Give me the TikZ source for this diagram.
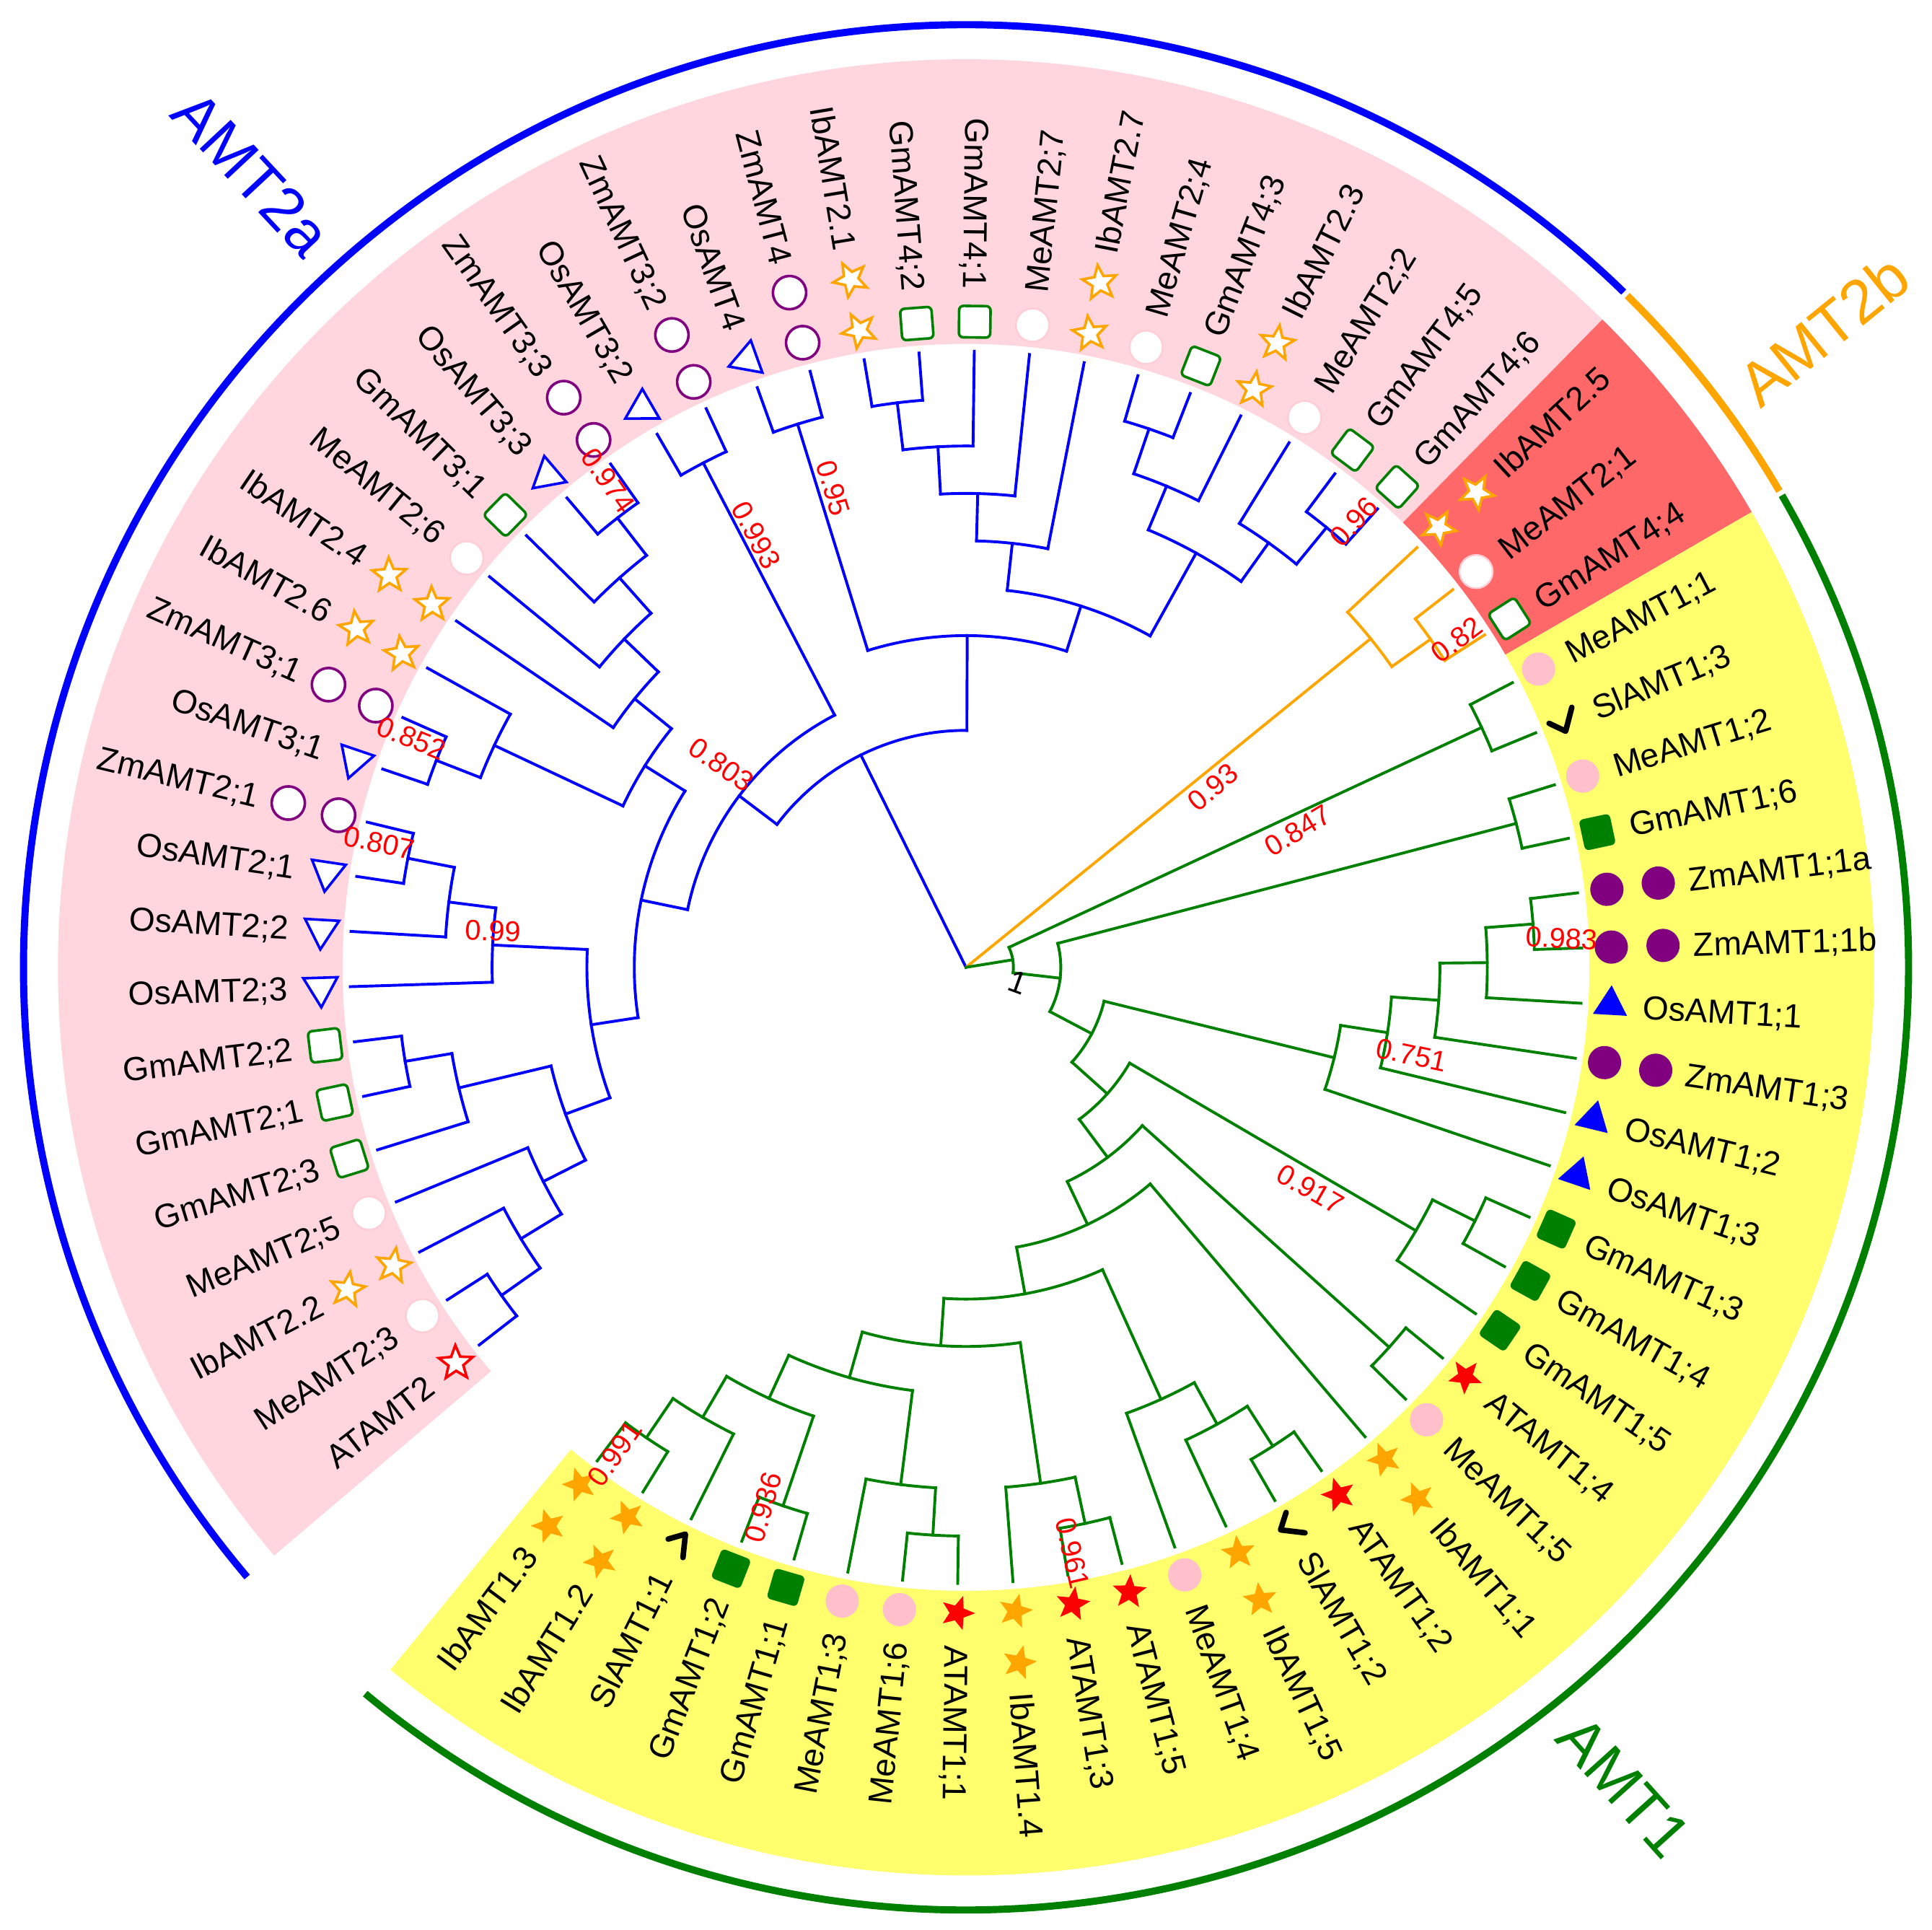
\documentclass[tikz,border=0pt]{standalone}
\usepackage{fontspec}
\setmainfont{Liberation Sans}
\usetikzlibrary{shapes.geometric}
\definecolor{pinkbg}{RGB}{255,214,222}
\definecolor{redbg}{RGB}{255,104,104}
\definecolor{yelbg}{RGB}{255,255,110}
\definecolor{cblue}{RGB}{0,0,255}
\definecolor{corange}{RGB}{255,165,0}
\definecolor{cgreen}{RGB}{0,128,0}
\definecolor{cpurple}{RGB}{128,0,128}
\definecolor{cpink}{RGB}{255,192,203}
\definecolor{cred}{RGB}{255,0,0}
\newcommand\Ang[1]{(217.8-((#1)-1)*5.1428571)}
\newcommand\Rad[1]{(5-0.3846154*(#1))}
\newcommand\clade[4]{\draw[#1] ({\Ang{#3}}:{\Rad{#2}}) arc[start angle={\Ang{#3}}, end angle={\Ang{#4}}, radius={\Rad{#2}}];}
\newcommand\br[4]{\draw[#1] ({\Ang{#2}}:{\Rad{#3}}) -- ({\Ang{#2}}:{\Rad{#4}});}
\newcommand\cherry[3]{\clade{#1}{1}{#2}{#3}\br{#1}{#2}{1}{0}\br{#1}{#3}{1}{0}}
\tikzset{
  tb/.style={cblue, line width=0.65pt, line cap=rect},
  to/.style={corange, line width=0.65pt, line cap=rect},
  tg/.style={cgreen, line width=0.65pt, line cap=rect},
  symbase/.style={inner sep=0pt, outer sep=0pt},
  starsym/.style={symbase, star, star points=5, star point ratio=2.3, minimum size=0.29cm},
  circsym/.style={symbase, circle, minimum size=0.27cm},
  sqsym/.style={symbase, rectangle, rounded corners=0.035cm, minimum size=0.255cm},
  trisym/.style={symbase, regular polygon, regular polygon sides=3, minimum size=0.32cm},
  symAT2/.style={starsym, draw=cred, fill=white, line width=0.6pt},
  symAT1/.style={starsym, fill=cred},
  symIb2/.style={starsym, draw=corange, fill=white, line width=0.6pt},
  symIb1/.style={starsym, fill=corange},
  symMe2/.style={circsym, draw=cpink!80, fill=white, line width=0.4pt},
  symMe1/.style={circsym, fill=cpink},
  symZm2/.style={circsym, draw=cpurple, fill=white, line width=0.6pt},
  symZm1/.style={circsym, fill=cpurple},
  symGm2/.style={sqsym, draw=cgreen, fill=white, line width=0.6pt},
  symGm1/.style={sqsym, fill=cgreen},
  symOs2/.style={trisym, draw=cblue, fill=white, line width=0.6pt},
  symOs1/.style={trisym, fill=cblue},
  symSl/.style={symbase},
  chk/.style={black, line width=0.045cm, line cap=round, line join=round},
  lab/.style={font=\fontsize{7.7}{8}\selectfont, inner sep=0pt, text height=5.5pt, text depth=0pt},
  bs/.style={font=\fontsize{6.6}{7}\selectfont, text=cred, inner sep=0pt},
  grp/.style={font=\fontsize{14.2}{15}\selectfont, inner sep=0pt},
  garc/.style={line width=0.058cm}
}
\begin{document}
\begin{tikzpicture}
\useasboundingbox (-7.84,-7.81) rectangle (7.84,7.85);
\fill[white] (-7.84,-7.81) rectangle (7.84,7.85);
\coordinate (root) at (0,0);
% background sectors
\fill[pinkbg] (45.51:5.06) arc[start angle=45.51,end angle=220.37,radius=5.06] -- (220.37:7.37) arc[start angle=220.37,end angle=45.51,radius=7.37] -- cycle;
\fill[redbg] (30.09:5.06) arc[start angle=30.09,end angle=45.51,radius=5.06] -- (45.51:7.37) arc[start angle=45.51,end angle=30.09,radius=7.37] -- cycle;
\fill[yelbg] (-129.34:5.06) arc[start angle=-129.34,end angle=30.09,radius=5.06] -- (30.09:7.37) arc[start angle=30.09,end angle=-129.34,radius=7.37] -- cycle;
% outer group arcs
\draw[garc, cblue] (45.75:7.65) arc[start angle=45.75,end angle=220.3,radius=7.65];
\draw[garc, corange] (30.35:7.65) arc[start angle=30.35,end angle=45.45,radius=7.65];
\draw[garc, cgreen] (-129.6:7.65) arc[start angle=-129.6,end angle=30.05,radius=7.65];
% ---------- AMT2a tree ----------
\cherry{tb}{1}{2}
\clade{tb}{2}{1.5}{3} \br{tb}{1.5}{2}{1} \br{tb}{3}{2}{0}
\clade{tb}{3}{2.25}{4} \br{tb}{2.25}{3}{2} \br{tb}{4}{3}{0}
\cherry{tb}{6}{7}
\clade{tb}{2}{5}{6.5} \br{tb}{5}{2}{0} \br{tb}{6.5}{2}{1}
\clade{tb}{4}{3.125}{5.75} \br{tb}{3.125}{4}{3} \br{tb}{5.75}{4}{2}
\cherry{tb}{10}{11}
\clade{tb}{2}{9}{10.5} \br{tb}{9}{2}{0} \br{tb}{10.5}{2}{1}
\clade{tb}{3}{8}{9.75} \br{tb}{8}{3}{0} \br{tb}{9.75}{3}{2}
\clade{tb}{5}{4.4375}{8.875} \br{tb}{4.4375}{5}{4} \br{tb}{8.875}{5}{3}
\cherry{tb}{12}{13}
\clade{tb}{2}{12.5}{14} \br{tb}{12.5}{2}{1} \br{tb}{14}{2}{0}
\cherry{tb}{18}{19}
\clade{tb}{2}{17}{18.5} \br{tb}{17}{2}{0} \br{tb}{18.5}{2}{1}
\clade{tb}{3}{16}{17.75} \br{tb}{16}{3}{0} \br{tb}{17.75}{3}{2}
\clade{tb}{4}{15}{16.875} \br{tb}{15}{4}{0} \br{tb}{16.875}{4}{3}
\clade{tb}{5}{13.25}{15.9375} \br{tb}{13.25}{5}{2} \br{tb}{15.9375}{5}{4}
\clade{tb}{6}{6.65625}{14.59375} \br{tb}{6.65625}{6}{5} \br{tb}{14.59375}{6}{5}
\cherry{tb}{20}{21}
\clade{tb}{7}{10.625}{20.5} \br{tb}{10.625}{7}{6} \br{tb}{20.5}{7}{1}
\cherry{tb}{22}{23}
\cherry{tb}{24}{25}
\clade{tb}{2}{24.5}{26} \br{tb}{24.5}{2}{1} \br{tb}{26}{2}{0}
\clade{tb}{3}{25.25}{27} \br{tb}{25.25}{3}{2} \br{tb}{27}{3}{0}
\clade{tb}{4}{26.125}{28} \br{tb}{26.125}{4}{3} \br{tb}{28}{4}{0}
\cherry{tb}{29}{30}
\clade{tb}{2}{29.5}{31} \br{tb}{29.5}{2}{1} \br{tb}{31}{2}{0}
\cherry{tb}{33}{34}
\clade{tb}{2}{32}{33.5} \br{tb}{32}{2}{0} \br{tb}{33.5}{2}{1}
\clade{tb}{3}{30.25}{32.75} \br{tb}{30.25}{3}{2} \br{tb}{32.75}{3}{2}
\clade{tb}{5}{27.0625}{31.5} \br{tb}{27.0625}{5}{4} \br{tb}{31.5}{5}{3}
\clade{tb}{6}{22.5}{29.28125} \br{tb}{22.5}{6}{1} \br{tb}{29.28125}{6}{5}
\clade{tb}{8}{15.5625}{25.890625} \br{tb}{15.5625}{8}{7} \br{tb}{25.890625}{8}{6}
\draw[tb] (root) -- ({\Ang{20.7265625}}:{\Rad{8}});
% ---------- AMT2b tree ----------
\cherry{to}{36}{37}
\clade{to}{2}{35}{36.5} \br{to}{35}{2}{0} \br{to}{36.5}{2}{1}
\draw[to] (root) -- ({\Ang{35.75}}:{\Rad{2}});
% ---------- AMT1 tree ----------
\cherry{tg}{38}{39}
\cherry{tg}{40}{41}
\cherry{tg}{42}{43}
\clade{tg}{2}{42.5}{44} \br{tg}{42.5}{2}{1} \br{tg}{44}{2}{0}
\clade{tg}{3}{43.25}{45} \br{tg}{43.25}{3}{2} \br{tg}{45}{3}{0}
\clade{tg}{4}{44.125}{46} \br{tg}{44.125}{4}{3} \br{tg}{46}{4}{0}
\clade{tg}{5}{45.0625}{47} \br{tg}{45.0625}{5}{4} \br{tg}{47}{5}{0}
\cherry{tg}{48}{49}
\clade{tg}{2}{48.5}{50} \br{tg}{48.5}{2}{1} \br{tg}{50}{2}{0}
\cherry{tg}{51}{52}
\cherry{tg}{54}{55}
\clade{tg}{2}{54.5}{56} \br{tg}{54.5}{2}{1} \br{tg}{56}{2}{0}
\clade{tg}{3}{55.25}{57} \br{tg}{55.25}{3}{2} \br{tg}{57}{3}{0}
\cherry{tg}{58}{59}
\clade{tg}{2}{58.5}{60} \br{tg}{58.5}{2}{1} \br{tg}{60}{2}{0}
\cherry{tg}{61}{62}
\clade{tg}{2}{61.5}{63} \br{tg}{61.5}{2}{1} \br{tg}{63}{2}{0}
\cherry{tg}{64}{65}
\cherry{tg}{67}{68}
\clade{tg}{2}{66}{67.5} \br{tg}{66}{2}{0} \br{tg}{67.5}{2}{1}
\clade{tg}{3}{64.5}{66.75} \br{tg}{64.5}{3}{1} \br{tg}{66.75}{3}{2}
\clade{tg}{4}{62.25}{65.625} \br{tg}{62.25}{4}{2} \br{tg}{65.625}{4}{3}
\clade{tg}{5}{59.25}{63.9375} \br{tg}{59.25}{5}{2} \br{tg}{63.9375}{5}{4}
\clade{tg}{6}{56.125}{61.59375} \br{tg}{56.125}{6}{3} \br{tg}{61.59375}{6}{5}
\clade{tg}{7}{53}{58.859375} \br{tg}{53}{7}{0} \br{tg}{58.859375}{7}{6}
\clade{tg}{8}{51.5}{55.9296875} \br{tg}{51.5}{8}{1} \br{tg}{55.9296875}{8}{7}
\clade{tg}{9}{49.25}{53.71484} \br{tg}{49.25}{9}{2} \br{tg}{53.71484}{9}{8}
\clade{tg}{10}{46.03125}{51.48242} \br{tg}{46.03125}{10}{5} \br{tg}{51.48242}{10}{9}
\clade{tg}{11}{40.5}{48.75684} \br{tg}{40.5}{11}{1} \br{tg}{48.75684}{11}{10}
\clade{tg}{12}{38.5}{44.62842} \br{tg}{38.5}{12}{1} \br{tg}{44.62842}{12}{11}
\draw[tg] (root) -- ({\Ang{41.56421}}:{\Rad{12}});
% ---------- leaves: symbols and labels ----------
\foreach \i/\nm/\sy/\dbl in {
1/ATAMT2/AT2/0, 2/MeAMT2;3/Me2/0, 3/IbAMT2.2/Ib2/1, 4/MeAMT2;5/Me2/0,
5/GmAMT2;3/Gm2/0, 6/GmAMT2;1/Gm2/0, 7/GmAMT2;2/Gm2/0, 8/OsAMT2;3/Os2/0,
9/OsAMT2;2/Os2/0, 10/OsAMT2;1/Os2/0, 11/ZmAMT2;1/Zm2/1, 12/OsAMT3;1/Os2/0,
13/ZmAMT3;1/Zm2/1, 14/IbAMT2.6/Ib2/1, 15/IbAMT2.4/Ib2/1, 16/MeAMT2;6/Me2/0,
17/GmAMT3;1/Gm2/0, 18/OsAMT3;3/Os2/0, 19/ZmAMT3;3/Zm2/1, 20/OsAMT3;2/Os2/0,
21/ZmAMT3;2/Zm2/1, 22/OsAMT4/Os2/0, 23/ZmAMT4/Zm2/1, 24/IbAMT2.1/Ib2/1,
25/GmAMT4;2/Gm2/0, 26/GmAMT4;1/Gm2/0, 27/MeAMT2;7/Me2/0, 28/IbAMT2.7/Ib2/1,
29/MeAMT2;4/Me2/0, 30/GmAMT4;3/Gm2/0, 31/IbAMT2.3/Ib2/1, 32/MeAMT2;2/Me2/0,
33/GmAMT4;5/Gm2/0, 34/GmAMT4;6/Gm2/0, 35/IbAMT2.5/Ib2/1, 36/MeAMT2;1/Me2/0,
37/GmAMT4;4/Gm2/0, 38/MeAMT1;1/Me1/0, 39/SlAMT1;3/Sl/0, 40/MeAMT1;2/Me1/0,
41/GmAMT1;6/Gm1/0, 42/ZmAMT1;1a/Zm1/1, 43/ZmAMT1;1b/Zm1/1, 44/OsAMT1;1/Os1/0,
45/ZmAMT1;3/Zm1/1, 46/OsAMT1;2/Os1/0, 47/OsAMT1;3/Os1/0, 48/GmAMT1;3/Gm1/0,
49/GmAMT1;4/Gm1/0, 50/GmAMT1;5/Gm1/0, 51/ATAMT1;4/AT1/0, 52/MeAMT1;5/Me1/0,
53/IbAMT1;1/Ib1/1, 54/ATAMT1;2/AT1/0, 55/SlAMT1;2/Sl/0, 56/IbAMT1;5/Ib1/1,
57/MeAMT1;4/Me1/0, 58/ATAMT1;5/AT1/0, 59/ATAMT1;3/AT1/0, 60/IbAMT1.4/Ib1/1,
61/ATAMT1;1/AT1/0, 62/MeAMT1;6/Me1/0, 63/MeAMT1;3/Me1/0, 64/GmAMT1;1/Gm1/0,
65/GmAMT1;2/Gm1/0, 66/SlAMT1;1/Sl/0, 67/IbAMT1.2/Ib1/1, 68/IbAMT1.3/Ib1/1}{
  \pgfmathsetmacro\ang{217.8-(\i-1)*5.1428571}
  \edef\tmp{\noexpand\node[sym\sy,rotate=\ang] (s\i) at (\ang:5.24) {};}\tmp
  \ifnum\dbl=1
    \edef\tmp{\noexpand\node[sym\sy,rotate=\ang] (t\i) at (\ang:5.66) {};}\tmp
    \def\lr{5.90}
  \else
    \def\lr{5.50}
  \fi
  \ifnum\i<27 \def\side{L}\else\ifnum\i>61 \def\side{L}\else\def\side{R}\fi\fi
  \if L\side
    \pgfmathsetmacro\rot{\ang+180}
    \node[lab,anchor=east,rotate=\rot] (n\i) at (\ang:\lr) {\nm};
  \else
    \node[lab,anchor=west,rotate=\ang] (n\i) at (\ang:\lr) {\nm};
  \fi
}
% check marks (Sl)
\begin{scope}[shift={(22.37:5.24)}, rotate=22.37]
  \draw[chk] (-0.11,0.03) -- (-0.01,-0.08) -- (0.11,0.08);
\end{scope}
\begin{scope}[shift={(-59.91:5.24)}, rotate=-59.91]
  \draw[chk] (-0.11,0.03) -- (-0.01,-0.08) -- (0.11,0.08);
\end{scope}
\begin{scope}[shift={(-116.49:5.24)}]
  \draw[chk] (-0.08,0.05) -- (0.06,0.09) -- (0.04,-0.10);
\end{scope}
% bootstrap values
\node[bs, rotate=-55] (b1) at (-2.902,3.949) {0.974};
\node[bs, rotate=-62] (b2) at (-1.703,3.507) {0.993};
\node[bs, rotate=-73] (b3) at (-1.078,3.888) {0.95};
\node[bs, rotate=-35] (b4) at (-1.985,1.645) {0.803};
\node[bs, rotate=-22] (b5) at (-4.50,1.86) {0.852};
\node[bs, rotate=-12] (b6) at (-4.761,1.01) {0.807};
\node[bs, rotate=-2] (b7) at (-3.837,0.296) {0.99};
\node[bs, rotate=47] (b8) at (3.148,3.616) {0.96};
\node[bs, rotate=37] (b9) at (3.984,2.658) {0.82};
\node[bs, rotate=40] (b10) at (2.003,1.462) {0.93};
\node[bs, rotate=31] (b11) at (2.693,1.112) {0.847};
\node[bs, rotate=-3] (b12) at (4.833,0.235) {0.983};
\node[bs, rotate=-12] (b13) at (3.617,-0.712) {0.751};
\node[bs, rotate=-30] (b14) at (2.794,-1.799) {0.917};
\node[bs, rotate=-77] (b15) at (0.864,-4.755) {0.961};
\node[bs, rotate=74] (b16) at (-1.645,-4.381) {0.936};
\node[bs, rotate=55] (b17) at (-2.851,-3.946) {0.991};
\node[bs, text=black, rotate=-20, font=\fontsize{7.2}{8}\selectfont] (b18) at (0.423,-0.124) {1};
% group labels
\node[grp, text=cblue, rotate=-47] (g1) at (-5.80,6.44) {AMT2a};
\node[grp, text=corange, rotate=39] (g2) at (6.96,5.17) {AMT2b};
\node[grp, text=cgreen, rotate=-48] (g3) at (5.34,-6.65) {AMT1};
\end{tikzpicture}
\end{document}
